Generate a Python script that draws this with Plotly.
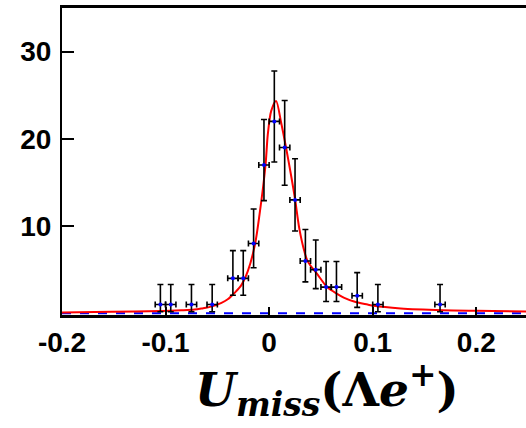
import plotly.graph_objects as go

# Data points (bin centres, counts, asymmetric errors)
x_pts = [-0.105, -0.095, -0.075, -0.055, -0.035, -0.025, -0.015, -0.005,
         0.005, 0.015, 0.025, 0.035, 0.045, 0.055, 0.065, 0.085, 0.105, 0.165]
y_pts = [1, 1, 1, 1, 4, 4, 8, 17, 22, 19, 13, 6, 5, 3, 3, 2, 1, 1]
err_up = [2.3, 2.3, 2.3, 2.3, 3.18, 3.18, 3.96, 5.21, 5.77, 5.39, 4.71, 3.6, 3.4,
          2.94, 2.94, 2.66, 2.3, 2.3]
err_dn = [0.83, 0.83, 0.83, 0.83, 1.94, 1.94, 2.78, 4.09, 4.66, 4.33, 3.57, 2.4,
          2.18, 1.66, 1.66, 1.32, 0.83, 0.83]
x_halfwidth = 0.005

# Fit curve
x_fit = [-0.2, -0.152, -0.104, -0.085, -0.072, -0.065, -0.056, -0.046, -0.040,
         -0.0333, -0.027, -0.0205, -0.0135, -0.0093, -0.0035, -0.0013, 0.002,
         0.0067, 0.0115, 0.0163, 0.0212, 0.025, 0.0291, 0.034, 0.0372, 0.047,
         0.056, 0.066, 0.072, 0.082, 0.095, 0.101, 0.127, 0.168, 0.2, 0.248]
y_fit = [0.1, 0.18, 0.26, 0.34, 0.42, 0.55, 0.76, 1.2, 1.6,
         2.35, 3.2, 4.85, 8.0, 11.3, 17.0, 20.5, 23.2,
         24.35, 21.9, 19.0, 15.8, 13.1, 9.74, 7.1, 5.95, 4.4,
         3.0, 2.2, 1.8, 1.35, 1.0, 0.85, 0.55, 0.35, 0.28, 0.2]

# Background line
x_bkg = [-0.2, 0.248]
y_bkg = [0, 0]

x_ticks = [-0.2, -0.1, 0, 0.1, 0.2]
x_ticktext = ["-0.2", "-0.1", "0", "0.1", "0.2"]
y_ticks = [10, 20, 30]
y_ticktext = ["10", "20", "30"]

fig = go.Figure()
fig.add_trace(go.Scatter(x=x_bkg, y=y_bkg, mode="lines",
                         line=dict(color="blue", width=2, dash="dash"),
                         showlegend=False, cliponaxis=False))
fig.add_trace(go.Scatter(x=x_fit, y=y_fit, mode="lines",
                         line=dict(color="red", width=2, shape="spline", smoothing=0.8),
                         showlegend=False))
fig.add_trace(go.Scatter(
    x=x_pts, y=y_pts, mode="markers",
    marker=dict(color="blue", size=4),
    error_y=dict(type="data", array=err_up, arrayminus=err_dn, symmetric=False,
                 color="black", thickness=1.6, width=3),
    error_x=dict(type="constant", value=x_halfwidth, color="black",
                 thickness=1.6, width=3),
    showlegend=False))

fig.update_layout(
    width=526, height=428,
    margin=dict(l=62, r=0, t=8, b=113),
    paper_bgcolor="white", plot_bgcolor="white",
    font=dict(family="Liberation Sans", color="black"),
    xaxis=dict(range=[-0.2, 0.248], tickvals=x_ticks, ticktext=x_ticktext,
               ticks="inside", ticklen=8, tickwidth=2, tickcolor="black",
               showline=True, linecolor="black", linewidth=3, mirror=True,
               showgrid=False, zeroline=False,
               tickfont=dict(family="Liberation Sans", size=28, color="black", weight="bold")),
    yaxis=dict(range=[-0.2, 35], tickvals=y_ticks, ticktext=y_ticktext,
               ticks="inside", ticklen=12, tickwidth=2, tickcolor="black",
               showline=True, linecolor="black", linewidth=2,
               showgrid=False, zeroline=False, ticklabelstandoff=3,
               tickfont=dict(family="Liberation Sans", size=28, color="black", weight="bold")),
    annotations=[dict(
        text="<b><i>U</i></b><sub><b><i>miss</i></b></sub><b>(Λ<i>e</i><sup>+</sup>)</b>",
        xref="paper", yref="paper", x=0.571, y=-0.362, xanchor="center", yanchor="bottom",
        showarrow=False, font=dict(family="DejaVu Serif", size=47, color="black"))],
)

fig.write_html("out.html")
